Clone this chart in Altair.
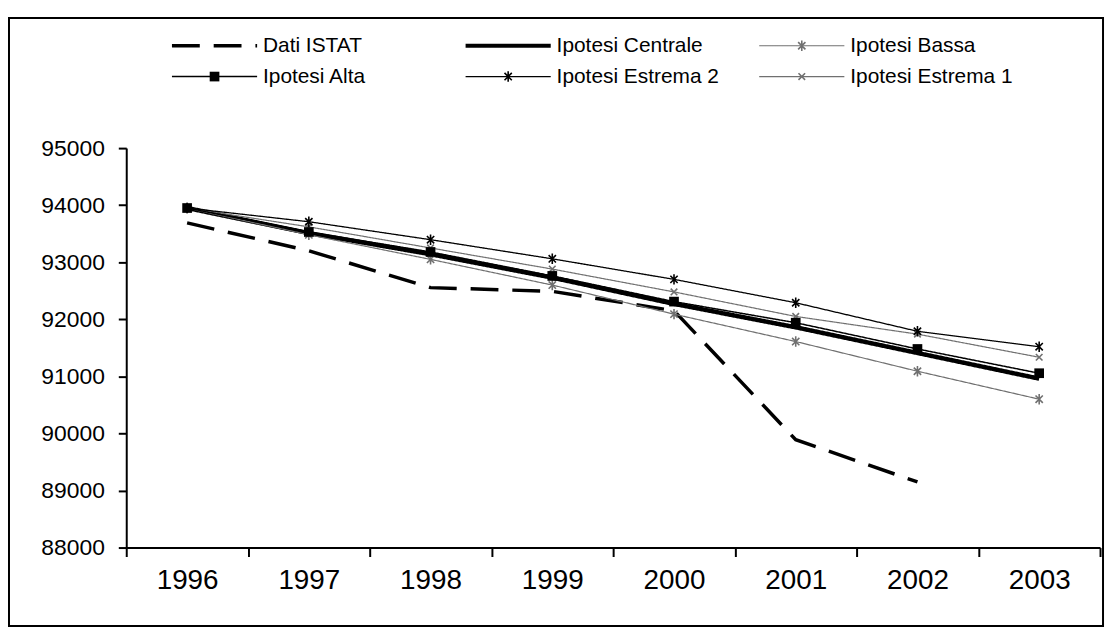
import altair as alt
import pandas as pd

# ---------------- data ----------------
years = ["1996", "1997", "1998", "1999", "2000", "2001", "2002", "2003"]
dati_istat = [93690, 93200, 92555, 92490, 92150, 89890, 89150, None]
ip_centrale = [93950, 93510, 93140, 92730, 92270, 91860, 91410, 90960]
ip_alta = [93950, 93530, 93180, 92760, 92310, 91940, 91480, 91055]
ip_bassa = [93950, 93480, 93050, 92600, 92090, 91610, 91090, 90600]
ip_estrema2 = [93950, 93710, 93395, 93060, 92700, 92290, 91790, 91520]
ip_estrema1 = [93950, 93620, 93250, 92880, 92480, 92050, 91740, 91335]
y_ticks = [88000, 89000, 90000, 91000, 92000, 93000, 94000, 95000]
legend_names = ["Dati ISTAT", "Ipotesi Centrale", "Ipotesi Bassa",
                "Ipotesi Alta", "Ipotesi Estrema 2", "Ipotesi Estrema 1"]

series_values = {
    "Dati ISTAT": dati_istat,
    "Ipotesi Centrale": ip_centrale,
    "Ipotesi Bassa": ip_bassa,
    "Ipotesi Alta": ip_alta,
    "Ipotesi Estrema 2": ip_estrema2,
    "Ipotesi Estrema 1": ip_estrema1,
}

# ---------------- styles ----------------
ASTER = "M-0.7,-0.7L0.7,0.7M-0.7,0.7L0.7,-0.7M0,-1L0,1"
XMARK = "M-0.7,-0.7L0.7,0.7M-0.7,0.7L0.7,-0.7"
styles = {
    "Dati ISTAT": dict(color="black", width=3.5, dash=[28, 14], marker=None),
    "Ipotesi Centrale": dict(color="black", width=4.5, dash=[1, 0], marker=None),
    "Ipotesi Bassa": dict(color="#707070", width=1.2, dash=[1, 0], marker=("aster", "#707070")),
    "Ipotesi Alta": dict(color="black", width=1.5, dash=[1, 0], marker=("square", "black")),
    "Ipotesi Estrema 2": dict(color="black", width=1.3, dash=[1, 0], marker=("aster", "black")),
    "Ipotesi Estrema 1": dict(color="#707070", width=1.2, dash=[1, 0], marker=("x", "#707070")),
}
draw_order = ["Ipotesi Centrale", "Dati ISTAT", "Ipotesi Bassa",
              "Ipotesi Estrema 1", "Ipotesi Estrema 2", "Ipotesi Alta"]

rows = []
for name, vals in series_values.items():
    for yr, v in zip(years, vals):
        if v is not None:
            rows.append({"year": yr, "value": v, "series": name})
df = pd.DataFrame(rows)

X_ENC = alt.X("year:O",
              scale=alt.Scale(type="band", domain=years, paddingInner=0, paddingOuter=0),
              axis=alt.Axis(title=None, labelAngle=0, tickBand="extent",
                            domainColor="black", domainWidth=2,
                            tickColor="black", tickWidth=2, tickSize=9,
                            labelFont="Liberation Sans", labelFontSize=28,
                            labelColor="black", labelPadding=10))
Y_ENC = alt.Y("value:Q",
              scale=alt.Scale(domain=[88000, 95000], nice=False, zero=False),
              axis=alt.Axis(title=None, values=y_ticks, format="d", grid=False,
                            domainColor="black", domainWidth=2,
                            tickColor="black", tickWidth=2, tickSize=8,
                            labelFont="Liberation Sans", labelFontSize=23,
                            labelColor="black", labelPadding=14))


def marker_mark(kind, color):
    if kind == "square":
        return dict(shape="square", filled=True, size=95, color=color, opacity=1)
    if kind == "aster":
        return dict(shape=ASTER, filled=False, size=110, color=color, strokeWidth=1.6, opacity=1)
    return dict(shape=XMARK, filled=False, size=90, color=color, strokeWidth=1.6, opacity=1)


base = alt.Chart(df)
main_layers = []
for name in draw_order:
    st = styles[name]
    main_layers.append(
        base.transform_filter(alt.datum.series == name)
        .mark_line(color=st["color"], strokeWidth=st["width"], strokeDash=st["dash"])
        .encode(x=X_ENC, y=Y_ENC)
    )
    if st["marker"]:
        kind, col = st["marker"]
        main_layers.append(
            base.transform_filter(alt.datum.series == name)
            .mark_point(**marker_mark(kind, col))
            .encode(x=X_ENC, y=Y_ENC)
        )
main = alt.layer(*main_layers)

# ---------------- legend ----------------
leg_df = pd.DataFrame({
    "name": legend_names,
    "col": [i % 3 for i in range(len(legend_names))],
    "row": [i // 3 for i in range(len(legend_names))],
})
LX = alt.Scale(domain=[0, 2], range=[46, 637], nice=False, zero=False)
LY = alt.Scale(domain=[0, 1], range=[-103, -72], nice=False, zero=False)
lbase = alt.Chart(leg_df).transform_calculate(
    col_end="datum.col + 0.29", col_mid="datum.col + 0.145", col_text="datum.col + 0.31"
)
leg_layers = []
for name in legend_names:
    st = styles[name]
    leg_layers.append(
        lbase.transform_filter(alt.datum.name == name)
        .mark_rule(color=st["color"], strokeWidth=min(st["width"], 4), strokeDash=st["dash"])
        .encode(x=alt.X("col:Q", scale=LX, axis=None), x2="col_end:Q",
                y=alt.Y("row:Q", scale=LY, axis=None))
    )
    if st["marker"]:
        kind, col = st["marker"]
        leg_layers.append(
            lbase.transform_filter(alt.datum.name == name)
            .mark_point(**marker_mark(kind, col))
            .encode(x=alt.X("col_mid:Q", scale=LX, axis=None),
                    y=alt.Y("row:Q", scale=LY, axis=None))
        )
leg_layers.append(
    lbase.mark_text(align="left", baseline="middle", font="Liberation Sans",
                    fontSize=21, color="black")
    .encode(x=alt.X("col_text:Q", scale=LX, axis=None),
            y=alt.Y("row:Q", scale=LY, axis=None), text="name:N")
)
# outer chart frame
frame = alt.Chart(pd.DataFrame({"k": [0]})).mark_rect(
    fill="transparent", stroke="black", strokeWidth=2
).encode(x=alt.value(-118), x2=alt.value(983), y=alt.value(-131), y2=alt.value(481))
leg_layers.append(frame)
legend = alt.layer(*leg_layers)

chart = alt.layer(main, legend).resolve_scale(
    x="independent", y="independent"
).properties(
    width=980, height=402,
    autosize=alt.AutoSizeParams(type="none"),
    padding={"left": 119, "top": 139, "right": 6, "bottom": 85},
).configure(background="white", view=alt.ViewConfig(stroke=None))

chart.save("out.html", embed_options={"renderer": "svg", "actions": False})
